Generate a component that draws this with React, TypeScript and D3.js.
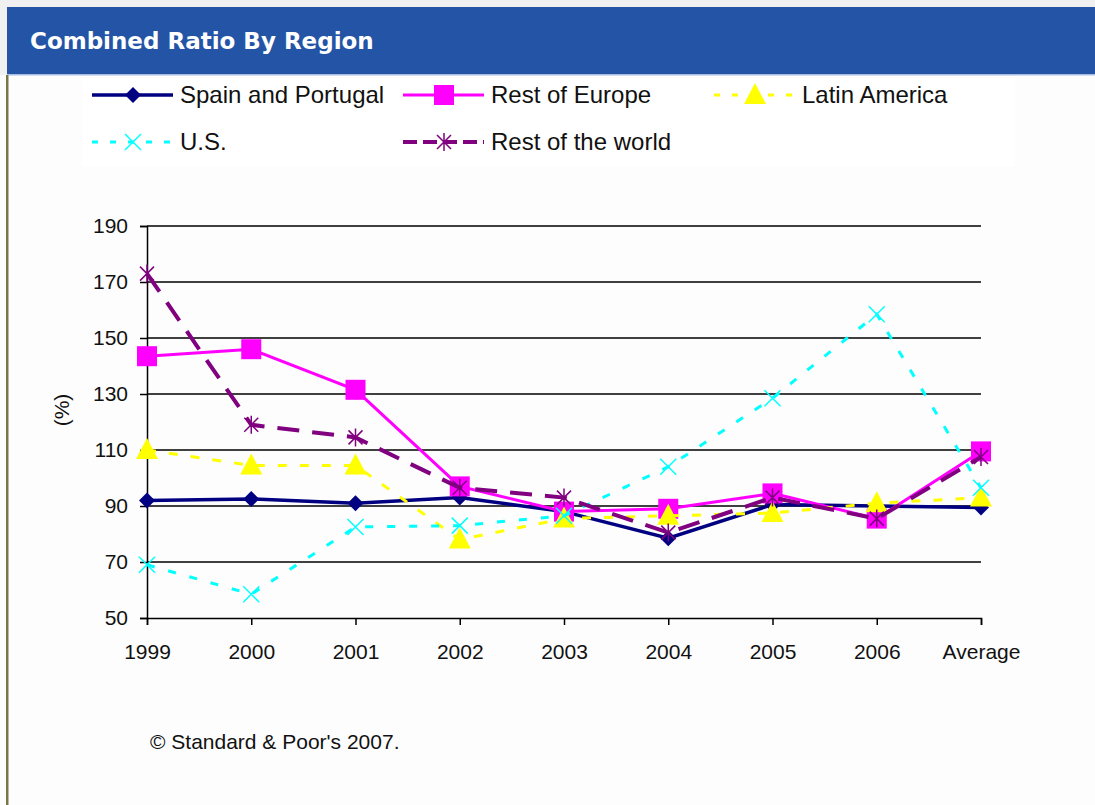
import React, { useEffect, useRef } from "react";
import * as d3 from "d3";

const categories = ["1999", "2000", "2001", "2002", "2003", "2004", "2005", "2006", "Average"];
const yTicks = [50, 70, 90, 110, 130, 150, 170, 190];

const spainPortugal = [92, 92.5, 91, 93, 88, 78.5, 90.5, 90, 89.5];
const restOfEurope = [143.5, 146, 131.5, 97, 88, 89, 94.5, 85.5, 109.5];
const latinAmerica = [110, 104.5, 104.5, 78, 85.5, 86.5, 87.5, 91, 93];
const us = [69, 58.5, 82.5, 83, 86.5, 104, 128.5, 158.5, 96.5];
const restOfWorld = [173, 119, 114.5, 96.5, 93, 80.5, 93, 85.5, 107.5];

type Series = {
  name: string;
  values: number[];
  color: string;
  width: number;
  dash: string | null;
  marker: string;
};

const series: Series[] = [
  { name: "Spain and Portugal", values: spainPortugal, color: "#000080", width: 3.5, dash: null, marker: "diamond" },
  { name: "Rest of Europe", values: restOfEurope, color: "#ff00ff", width: 3, dash: null, marker: "square" },
  { name: "Latin America", values: latinAmerica, color: "#ffff00", width: 3, dash: "9,13", marker: "triangle" },
  { name: "U.S.", values: us, color: "#00ffff", width: 3, dash: "8,14", marker: "x" },
  { name: "Rest of the world", values: restOfWorld, color: "#800080", width: 4, dash: "22,13", marker: "star" },
];

const FONT = "'Liberation Sans', Arial, sans-serif";

function drawMarker(g: any, kind: string, x: number, y: number, color: string) {
  if (kind === "diamond") {
    g.append("path").attr("d", `M${x},${y - 8}L${x + 8},${y}L${x},${y + 8}L${x - 8},${y}Z`).attr("fill", color);
  } else if (kind === "square") {
    g.append("rect").attr("x", x - 10).attr("y", y - 10).attr("width", 20).attr("height", 20).attr("fill", color);
  } else if (kind === "triangle") {
    g.append("path").attr("d", `M${x},${y - 12}L${x + 11},${y + 9}L${x - 11},${y + 9}Z`).attr("fill", color);
  } else if (kind === "x") {
    g.append("path")
      .attr("d", `M${x - 8},${y - 8}L${x + 8},${y + 8}M${x + 8},${y - 8}L${x - 8},${y + 8}`)
      .attr("stroke", color).attr("stroke-width", 1.5).attr("fill", "none");
  } else if (kind === "star") {
    g.append("path")
      .attr("d", `M${x - 7},${y - 7}L${x + 7},${y + 7}M${x + 7},${y - 7}L${x - 7},${y + 7}M${x},${y - 9}L${x},${y + 9}`)
      .attr("stroke", color).attr("stroke-width", 1.5).attr("fill", "none");
  }
}

const App = () => {
  const ref = useRef<SVGSVGElement>(null);

  useEffect(() => {
    document.body.style.margin = "0";
    const W = 1095;
    const H = 805;
    const svg = d3.select(ref.current!);
    svg.selectAll("*").remove();

    // page + frame
    svg.append("rect").attr("width", W).attr("height", H).attr("fill", "#fdfdfd");
    svg.append("rect").attr("width", W).attr("height", 7).attr("fill", "#f0f0f0");
    svg.append("rect").attr("y", 0).attr("width", 7).attr("height", 75).attr("fill", "#f0f0f0");
    svg.append("rect").attr("x", 7).attr("y", 7).attr("width", W - 7).attr("height", 67).attr("fill", "#2454a6");
    svg.append("rect").attr("x", 7).attr("y", 74).attr("width", W - 7).attr("height", 1.5).attr("fill", "#a9bde0");
    svg.append("rect").attr("x", 6).attr("y", 75).attr("width", 2.5).attr("height", H - 75).attr("fill", "#77784a");
    svg.append("text").attr("x", 30).attr("y", 49)
      .attr("font-family", "'DejaVu Sans', Verdana, sans-serif").attr("font-weight", "bold")
      .attr("font-size", 23).attr("fill", "#ffffff").text("Combined Ratio By Region");

    // legend
    svg.append("rect").attr("x", 82).attr("y", 78).attr("width", 933).attr("height", 89).attr("fill", "#ffffff");
    const legendPos = [
      [92, 95], [403, 95], [714, 95], [92, 142], [403, 142],
    ];
    series.forEach((s, i) => {
      const [lx, ly] = legendPos[i];
      const lg = svg.append("g");
      lg.append("line").attr("x1", lx).attr("x2", lx + 81).attr("y1", ly).attr("y2", ly)
        .attr("stroke", s.color).attr("stroke-width", s.width)
        .attr("stroke-dasharray", s.dash ? (s.marker === "star" ? "14,6" : "6,12") : null);
      drawMarker(lg, s.marker, lx + 41, ly, s.color);
      svg.append("text").attr("x", lx + 88).attr("y", ly + 8).attr("font-family", FONT)
        .attr("font-size", 24).attr("fill", "#111").text(s.name);
    });

    // scales
    const x = d3.scalePoint<string>().domain(categories).range([147, 981]).padding(0);
    const y = d3.scaleLinear().domain([50, 190]).range([618, 226]);

    // gridlines
    svg.append("g").selectAll("line").data(yTicks.slice(1)).join("line")
      .attr("x1", 147).attr("x2", 981).attr("y1", (d) => y(d)).attr("y2", (d) => y(d))
      .attr("stroke", "#000").attr("stroke-width", 1.5);

    // y axis
    const yAxis = svg.append("g").attr("transform", "translate(147,0)")
      .call(d3.axisLeft(y).tickValues(yTicks).tickSize(7).tickPadding(12));
    yAxis.select(".domain").attr("stroke", "#000").attr("stroke-width", 1.5);
    yAxis.selectAll(".tick line").attr("stroke", "#000").attr("stroke-width", 1.5);
    yAxis.selectAll("text").attr("font-family", FONT).attr("font-size", 21).attr("fill", "#111");

    // x axis
    const xAxis = svg.append("g").attr("transform", "translate(0,618)")
      .call(d3.axisBottom(x).tickSize(7).tickPadding(19));
    xAxis.select(".domain").attr("stroke", "#000").attr("stroke-width", 1.5);
    xAxis.selectAll(".tick line").attr("stroke", "#000").attr("stroke-width", 1.5);
    xAxis.selectAll("text").attr("font-family", FONT).attr("font-size", 21).attr("fill", "#111");

    svg.append("text").attr("transform", "translate(69,410) rotate(-90)").attr("text-anchor", "middle")
      .attr("font-family", FONT).attr("font-size", 21).attr("fill", "#111").text("(%)");

    // series
    const line = d3.line<number>().x((_, i) => x(categories[i])!).y((d) => y(d));
    series.forEach((s) => {
      const g = svg.append("g");
      g.append("path").attr("d", line(s.values)).attr("fill", "none")
        .attr("stroke", s.color).attr("stroke-width", s.width)
        .attr("stroke-dasharray", s.dash);
      s.values.forEach((v, i) => drawMarker(g, s.marker, x(categories[i])!, y(v), s.color));
    });

    svg.append("text").attr("x", 150).attr("y", 749).attr("font-family", FONT)
      .attr("font-size", 21).attr("fill", "#111").text("\u00a9 Standard & Poor's 2007.");
  }, []);

  return <svg ref={ref} width={1095} height={805} style={{ display: "block" }} />;
};

export default App;
